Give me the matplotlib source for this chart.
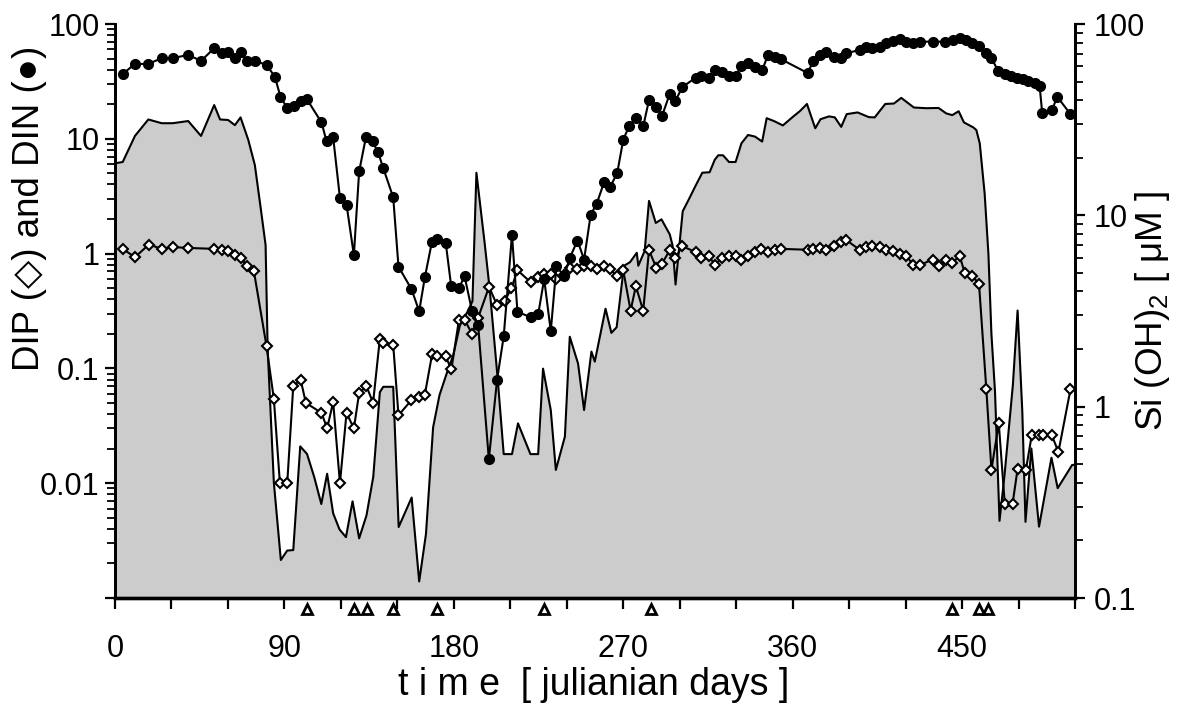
import numpy as np
import matplotlib
matplotlib.use("Agg")
import matplotlib.pyplot as plt
import matplotlib.transforms as mtransforms
from matplotlib.ticker import FixedLocator, FixedFormatter, LogLocator, NullFormatter

plt.rcParams['font.family'] = ['Liberation Sans', 'DejaVu Sans']
plt.rcParams['mathtext.default'] = 'regular'

# DIN (circulos llenos), eje izquierdo
din_t = [4.1, 10.6, 17.7, 24.8, 30.6, 38.9, 45.7, 52.7, 56.6, 60.1, 63.7, 66.7, 70.2, 74.3,
         80.5, 84.9, 87.9, 91.5, 95.0, 98.6, 101.8, 109.7, 112.4, 115.9, 119.5, 123.0, 126.9,
         129.7, 133.3, 136.8, 139.8, 142.5, 147.8, 150.6, 157.5, 161.6, 164.6, 168.3, 170.8,
         175.7, 178.6, 182.7, 185.7, 189.7, 192.9, 198.6, 203.0, 206.5, 210.9, 213.8, 220.9,
         224.8, 228.0, 231.5, 234.5, 238.6, 241.6, 245.7, 249.2, 252.7, 255.9, 259.8, 263.0,
         266.8, 270.0, 273.2, 276.7, 280.6, 283.7, 287.6, 290.6, 294.7, 297.7, 301.4, 308.5,
         311.5, 315.6, 318.6, 322.7, 326.2, 329.7, 332.8, 336.3, 339.8, 343.9, 346.9, 350.4,
         353.6, 368.1, 370.8, 374.3, 377.9, 381.9, 385.5, 388.5, 395.6, 398.8, 402.3, 406.2,
         409.4, 413.3, 416.8, 420.4, 423.9, 427.8, 434.5, 440.7, 445.2, 448.7, 452.3, 455.4,
         459.0, 462.9, 465.6, 469.1, 472.7, 476.2, 479.2, 482.4, 485.0, 488.5, 491.2, 492.6,
         497.9, 500.5, 507.6]
din = [36.7, 44.9, 44.9, 50.4, 50.4, 53.8, 47.7, 61.5, 56.3, 57.5, 50.4, 57.5, 47.7, 47.7,
       44.0, 34.8, 23.3, 18.5, 19.4, 21.5, 22.3, 13.9, 9.5, 10.3, 3.05, 2.67, 0.97,
       5.2, 10.3, 9.5, 7.6, 5.56, 3.09, 0.77, 0.49, 0.315, 0.62, 1.25, 1.34,
       1.24, 0.52, 0.50, 0.635, 0.315, 0.24, 0.0162, 0.080, 0.19, 1.46, 0.311, 0.279,
       0.295, 0.60, 0.211, 0.776, 0.635, 0.918, 1.30, 0.887, 2.18, 2.72, 4.17, 3.80,
       5.03, 9.8, 13.0, 15.1, 12.8, 21.8, 18.8, 15.8, 24.6, 21.4, 28.2, 34.1,
       35.3, 34.1, 39.8, 38.5, 35.3, 35.3, 43.3, 45.5, 42.5, 39.8, 53.8, 52.0,
       49.6, 37.3, 47.7, 53.8, 57.5, 52.0, 50.4, 55.6, 59.4, 62.7, 62.3, 62.7,
       68.0, 71.6, 73.6, 70.2, 68.8, 70.2, 70.2, 70.2, 72.6, 76.0, 72.6, 68.8,
       64.4, 56.3, 50.4, 39.3, 36.7, 35.3, 33.7, 33.0, 32.1, 30.9, 28.9, 16.7,
       17.9, 23.3, 16.4]

# DIP (rombos abiertos), eje izquierdo
dip_t = [4.1, 10.6, 18.0, 24.8, 30.6, 38.9, 52.7, 56.6, 60.1, 63.7, 66.7, 70.2, 73.8,
         80.5, 84.4, 87.6, 91.5, 94.7, 98.6, 101.4, 109.7, 112.7, 115.9, 119.5, 123.0,
         126.9, 129.7, 133.6, 137.1, 140.7, 142.5, 147.8, 150.6, 157.5, 161.6, 164.6,
         168.5, 170.8, 175.7, 178.7, 182.7, 185.8, 189.7, 192.9, 198.7, 203.0, 207.0,
         210.6, 213.8, 220.9, 224.8, 228.0, 231.5, 234.5, 238.6, 241.6, 245.7, 249.2,
         252.7, 255.9, 259.8, 263.0, 266.8, 270.0, 273.9, 276.7, 280.6, 283.7, 287.6,
         290.6, 294.7, 297.7, 301.4, 308.5, 311.5, 315.6, 318.6, 322.7, 326.2, 329.7,
         332.8, 336.3, 339.8, 343.4, 346.9, 350.4, 353.6, 368.1, 370.8, 374.3, 377.9,
         381.9, 385.5, 388.5, 395.6, 398.8, 402.3, 406.2, 409.4, 413.3, 416.8, 420.4,
         423.9, 427.8, 434.5, 437.7, 441.7, 444.9, 448.7, 451.4, 455.4, 459.0, 462.9,
         465.6, 469.5, 472.7, 476.8, 479.5, 483.9, 487.0, 491.0, 493.2, 497.7, 501.2, 507.6]
dip = [1.10, 0.93, 1.20, 1.10, 1.14, 1.12, 1.10, 1.07, 1.05, 0.98, 0.92, 0.78, 0.70,
       0.156, 0.054, 0.010, 0.010, 0.070, 0.080, 0.050, 0.041, 0.030, 0.051, 0.010, 0.041,
       0.030, 0.061, 0.070, 0.050, 0.181, 0.165, 0.160, 0.039, 0.053, 0.056, 0.059,
       0.134, 0.127, 0.127, 0.098, 0.263, 0.263, 0.200, 0.276, 0.513, 0.355, 0.385,
       0.50, 0.716, 0.562, 0.627, 0.67, 0.67, 0.60, 0.65, 0.75, 0.74, 0.776,
       0.776, 0.73, 0.776, 0.73, 0.635, 0.716, 0.319, 0.52, 0.319, 1.07, 0.75,
       0.818, 1.07, 0.918, 1.16, 1.03, 0.918, 0.95, 0.80, 0.918, 0.95, 0.95,
       0.887, 0.95, 1.03, 1.10, 1.04, 1.07, 1.10, 1.08, 1.10, 1.12, 1.08,
       1.17, 1.25, 1.31, 1.08, 1.14, 1.16, 1.14, 1.07, 1.05, 1.00, 0.96,
       0.80, 0.80, 0.887, 0.776, 0.887, 0.83, 0.96, 0.68, 0.635, 0.548, 0.0657,
       0.0131, 0.0333, 0.00656, 0.00656, 0.0133, 0.013, 0.0261, 0.0261, 0.0261, 0.0261, 0.0187, 0.0657]

# Si(OH)2, eje derecho (area gris)
si_t = [0, 4.1, 10.6, 17.7, 24.8, 30.6, 38.9, 45.7, 52.7, 55.8, 60.1, 63.7, 66.7, 70.8,
        74.3, 77.3, 80.0, 81.1, 84.4, 88.1, 91.5, 94.7, 98.4, 102.0, 105.8, 109.6, 112.7,
        115.9, 119.3, 122.7, 126.2, 129.7, 133.6, 137.2, 140.7, 142.5, 147.8, 150.7, 157.6,
        161.6, 165.2, 169.0, 172.4, 176.1, 179.7, 183.2, 187.6, 189.9, 192.0, 196.4, 199.1,
        203.3, 206.5, 210.9, 214.1, 220.7, 224.8, 227.4, 231.5, 234.2, 239.0, 241.6, 246.0,
        249.2, 253.1, 254.9, 260.6, 263.7, 266.5, 270.4, 273.6, 277.2, 278.0, 281.4, 283.7,
        287.3, 290.3, 294.7, 296.2, 297.8, 301.6, 305.0, 308.0, 312.0, 315.9, 318.6, 320.5,
        323.0, 326.2, 329.7, 332.8, 336.3, 340.0, 343.8, 346.2, 350.4, 354.8, 360.1, 363.8,
        367.6, 372.0, 374.8, 379.3, 382.4, 385.8, 388.7, 394.5, 400.5, 403.6, 409.2, 413.8,
        417.7, 424.4, 431.0, 437.5, 441.6, 444.8, 448.2, 451.0, 456.0, 457.6, 459.4, 462.0,
        464.0, 465.6, 467.5, 469.9, 472.6, 477.0, 479.5, 482.0, 483.7, 486.8, 490.9, 497.5,
        500.8, 508.5, 510.0]
si = [18.7, 19.0, 26.0, 31.7, 30.3, 30.3, 31.1, 26.0, 37.7, 31.7, 31.5, 29.6, 32.5, 24.8,
      18.3, 11.1, 7.0, 2.0, 0.40, 0.158, 0.177, 0.178, 0.62, 0.566, 0.43, 0.31, 0.446,
      0.277, 0.228, 0.208, 0.32, 0.205, 0.27, 0.43, 1.19, 1.27, 1.27, 0.235, 0.335,
      0.122, 0.216, 0.78, 1.15, 1.48, 1.86, 2.65, 3.18, 3.56, 16.7, 7.13, 4.07,
      1.40, 0.565, 0.565, 0.818, 0.565, 0.565, 1.58, 0.96, 0.467, 0.697, 2.32, 1.68,
      0.96, 1.94, 1.72, 3.25, 2.43, 2.60, 5.45, 5.69, 6.37, 5.45, 6.52, 11.9,
      9.12, 9.53, 7.96, 6.97, 4.35, 10.5, 12.2, 14.0, 16.7, 16.8, 19.5, 20.6,
      20.6, 19.0, 19.0, 23.8, 26.3, 25.8, 24.3, 32.2, 31.0, 29.5, 32.7, 35.0,
      38.2, 28.5, 31.8, 32.9, 32.5, 29.0, 33.8, 34.5, 32.6, 32.5, 38.2, 38.4,
      41.1, 36.6, 36.3, 36.4, 34.1, 33.4, 35.0, 30.6, 28.8, 27.9, 23.8, 13.0,
      6.3, 2.4, 1.2, 0.253, 0.443, 1.30, 3.18, 0.946, 0.25, 0.605, 0.236, 0.541,
      0.375, 0.496, 0.496]

# Dias marcados con triangulos bajo el eje
tri_t = [102, 127, 134, 147.5, 171, 228, 285, 444.5, 459, 464]

xticks = list(range(0, 511, 30))
xlabels = [str(v) if v % 90 == 0 else '' for v in xticks]

fig = plt.figure(figsize=(11.87, 7.04), dpi=100)
ax = fig.add_axes([115 / 1187, 106 / 704, 960 / 1187, 574 / 704])
ax2 = ax.twinx()

# Area de silicato
ax2.fill_between(si_t, 0.1, si, color='#cccccc', lw=0)
ax2.plot(si_t, si, color='k', lw=1.5)

# DIP y DIN
ax.plot(dip_t, dip, '-', color='k', lw=1.5, marker='D', ms=5.2,
        mfc='white', mec='k', mew=1.5)
ax.plot(din_t, din, '-', color='k', lw=1.5, marker='o', ms=7,
        mfc='k', mec='k')

ax.set_zorder(ax2.get_zorder() + 1)
ax.patch.set_visible(False)

# Triangulos
trans = mtransforms.blended_transform_factory(ax.transData, ax.transAxes)
ax.plot(tri_t, [-11 / 574] * len(tri_t), linestyle='none', marker='^', ms=7,
        mfc='white', mec='k', mew=2, transform=trans, clip_on=False)

ax.set_xlim(0, 510)
ax.set_xticks(xticks)
ax.set_xticklabels(xlabels)

ax.set_yscale('log')
ax.set_ylim(1e-3, 100)
ax.yaxis.set_major_locator(FixedLocator([1e-3, 1e-2, 1e-1, 1, 10, 100]))
ax.yaxis.set_major_formatter(FixedFormatter(['', '0.01', '0.1', '1', '10', '100']))
ax.yaxis.set_minor_locator(LogLocator(base=10, subs=np.arange(2, 10)))
ax.yaxis.set_minor_formatter(NullFormatter())

ax2.set_yscale('log')
ax2.set_ylim(0.1, 100)
ax2.yaxis.set_major_locator(FixedLocator([0.1, 1, 10, 100]))
ax2.yaxis.set_major_formatter(FixedFormatter(['0.1', '1', '10', '100']))
ax2.yaxis.set_minor_locator(LogLocator(base=10, subs=np.arange(2, 10)))
ax2.yaxis.set_minor_formatter(NullFormatter())

for a in (ax, ax2):
    a.spines['top'].set_visible(False)
    a.spines['left'].set_linewidth(2.0)
    a.spines['right'].set_linewidth(2.0)
    a.spines['bottom'].set_linewidth(2.4)

ax.tick_params(axis='x', direction='out', length=8, width=1.6, pad=18, labelsize=22)
ax.tick_params(axis='y', which='major', direction='out', length=7.5, width=1.6, pad=3.5, labelsize=22)
ax.tick_params(axis='y', which='minor', direction='out', length=5.5, width=1.3)
ax2.tick_params(axis='y', which='major', direction='out', length=7.5, width=1.6, pad=6, labelsize=22)
ax2.tick_params(axis='y', which='minor', direction='out', length=5.5, width=1.3)

# Etiquetas
fig.text(30 / 1187, 1 - 208 / 704, 'DIP (\u25c7) and DIN (\u25cf)', rotation=90,
         ha='center', va='center', fontsize=26.5)
fig.text(1152 / 1187, 1 - 311 / 704, 'Si (OH)$_2$ [ \u03bcM ]', rotation=90,
         ha='center', va='center', fontsize=26.5)
fig.text(594 / 1187, 1 - 695 / 704, 't i m e  [ julianian days ]',
         ha='center', va='baseline', fontsize=27)

fig.savefig('out.png', dpi=100)
